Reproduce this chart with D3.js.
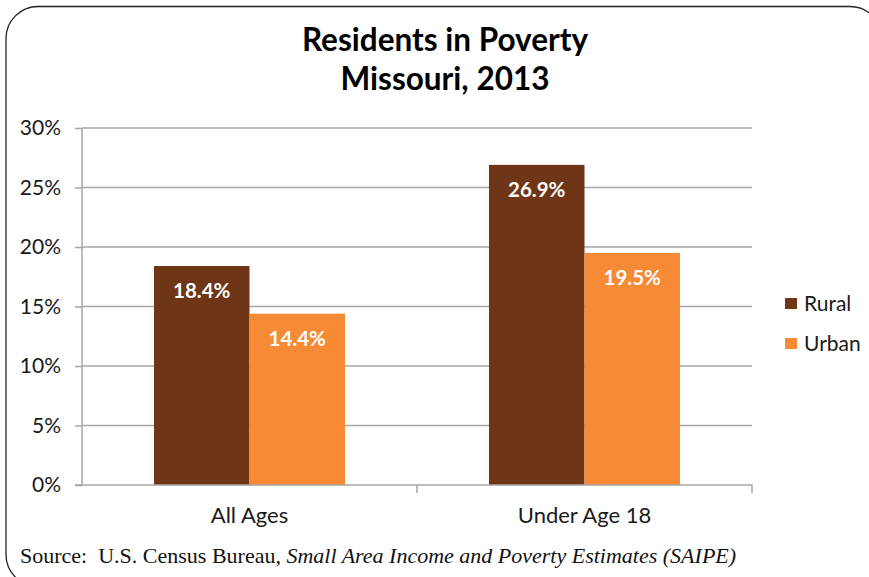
<!DOCTYPE html>
<html>
<head>
<meta charset="utf-8">
<script src="https://cdn.jsdelivr.net/npm/d3@7"></script>
<style>
  body { margin: 0; background: #fff; }
  text { font-family: Lato, "Open Sans", sans-serif; }
</style>
</head>
<body>
<div id="app"></div>
<script>
// data
const categories = ["All Ages", "Under Age 18"];
const seriesNames = ["Rural", "Urban"];
const rural = [18.4, 26.9];
const urban = [14.4, 19.5];
const yTicks = [0, 5, 10, 15, 20, 25, 30];
const colors = ["#6e3516", "#f68a35"];

const values = [rural, urban];
const rows = [];
categories.forEach((c, i) => {
    seriesNames.forEach((s, j) => {
        rows.push({cat: c, series: s, value: values[j][i]});
    });
});

let svg = d3.select("#app")
    .append("svg")
        .attr("width", 869)
        .attr("height", 577);

// rounded frame
svg.append("rect")
    .attr("x", 6).attr("y", 6.5)
    .attr("width", 876).attr("height", 580)
    .attr("rx", 32).attr("ry", 32)
    .attr("fill", "none")
    .attr("stroke", "#222")
    .attr("stroke-width", 1.3);

// title
svg.append("text")
    .attr("x", 445).attr("y", 51)
    .attr("text-anchor", "middle")
    .attr("font-size", 31.5).attr("font-weight", "bold")
    .attr("fill", "#000")
    .text("Residents in Poverty");
svg.append("text")
    .attr("x", 445).attr("y", 90)
    .attr("text-anchor", "middle")
    .attr("font-size", 31.5).attr("font-weight", "bold")
    .attr("fill", "#000")
    .text("Missouri, 2013");

const plotLeft = 82, plotRight = 752, plotTop = 128, plotBottom = 485;

let x = d3.scaleBand()
    .domain(categories)
    .range([plotLeft, plotRight])
    .paddingInner(0)
    .paddingOuter(0);

let xs = d3.scaleBand()
    .domain(seriesNames)
    .range([72, x.bandwidth() - 72]);

let y = d3.scaleLinear()
    .domain([0, 30])
    .range([plotBottom, plotTop]);

// gridlines
svg.append("g").selectAll("line")
    .data(yTicks.filter(t => t > 0))
    .enter()
    .append("line")
        .attr("x1", plotLeft).attr("x2", plotRight)
        .attr("y1", d => y(d)).attr("y2", d => y(d))
        .attr("stroke", "#a6a6a6")
        .attr("stroke-width", 1.5);

// bars
svg.append("g").selectAll("rect")
    .data(rows)
    .enter()
    .append("rect")
        .attr("x", d => x(d.cat) + xs(d.series))
        .attr("y", d => y(d.value))
        .attr("width", xs.bandwidth())
        .attr("height", d => y(0) - y(d.value))
        .attr("fill", d => colors[seriesNames.indexOf(d.series)]);

// value labels
svg.append("g").selectAll("text")
    .data(rows)
    .enter()
    .append("text")
        .attr("x", d => x(d.cat) + xs(d.series) + xs.bandwidth() / 2)
        .attr("y", d => y(d.value) + 32)
        .attr("text-anchor", "middle")
        .attr("font-size", 20.5).attr("font-weight", "bold")
        .attr("fill", "#fff")
        .text(d => d.value.toFixed(1) + "%");

// y axis
let yAxis = svg.append("g")
    .attr("transform", "translate(" + plotLeft + ",0)")
    .call(d3.axisLeft(y).tickValues(yTicks).tickFormat(d => d + "%").tickSize(7).tickPadding(14));
yAxis.select(".domain").attr("stroke", "#a6a6a6").attr("stroke-width", 1.5)
    .attr("d", "M0," + plotTop + "V" + plotBottom);
yAxis.selectAll(".tick line").attr("stroke", "#a6a6a6").attr("stroke-width", 1.5);
yAxis.selectAll("text").attr("font-size", 21).attr("fill", "#1a1a1a")
    .attr("font-family", "Lato, sans-serif");

// x axis
let xAxis = svg.append("g")
    .attr("transform", "translate(0," + plotBottom + ")")
    .call(d3.axisBottom(x).tickSize(0).tickPadding(22));
xAxis.select(".domain").attr("stroke", "#a6a6a6").attr("stroke-width", 1.5)
    .attr("d", "M" + (plotLeft - 7) + ",0H" + plotRight + "V8");
xAxis.selectAll("text").attr("font-size", 22).attr("fill", "#1a1a1a")
    .attr("font-family", "Lato, sans-serif");
// category separators
svg.append("g").selectAll("line")
    .data(categories.slice(1))
    .enter()
    .append("line")
        .attr("x1", d => x(d)).attr("x2", d => x(d))
        .attr("y1", plotBottom).attr("y2", plotBottom + 8)
        .attr("stroke", "#a6a6a6").attr("stroke-width", 1.5);

// legend
let legend = svg.append("g").selectAll("g")
    .data(seriesNames)
    .enter()
    .append("g")
        .attr("transform", (d, i) => "translate(785," + (298 + i * 40) + ")");
legend.append("rect")
    .attr("width", 12).attr("height", 11)
    .attr("fill", (d, i) => colors[i]);
legend.append("text")
    .attr("x", 19).attr("y", 12.5)
    .attr("font-size", 21).attr("fill", "#1a1a1a")
    .text(d => d);

// source (serif, like the original Garamond)
let src = svg.append("text")
    .attr("x", 20).attr("y", 563)
    .style("font-family", "'Liberation Serif', 'DejaVu Serif', serif")
    .attr("font-size", 22)
    .attr("fill", "#111");
src.append("tspan").text("Source:\u00a0\u00a0U.S. Census Bureau, ");
src.append("tspan").attr("font-style", "italic")
    .text("Small Area Income and Poverty Estimates (SAIPE)");
</script>
</body>
</html>
